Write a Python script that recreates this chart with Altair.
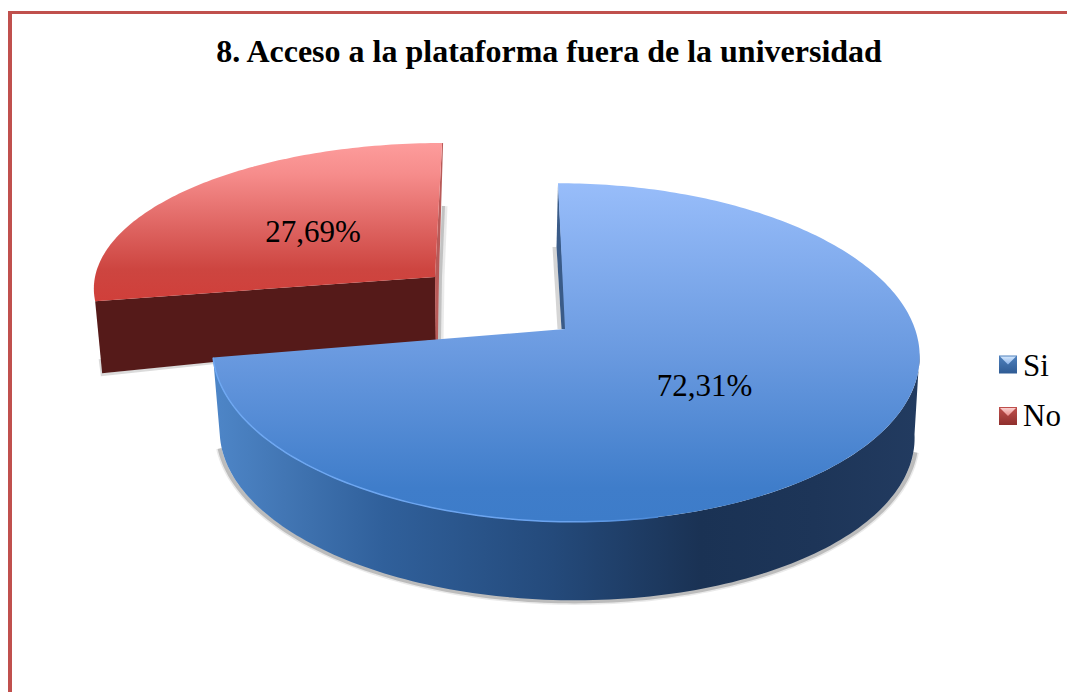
import numpy as np
import pandas as pd
import altair as alt

categories = ["Si", "No"]
shares = [72.31, 27.69]
share_labels = ["72,31%", "27,69%"]
title_text = "8. Acceso a la plataforma fuera de la universidad"

W, H = 1059, 684
xs = alt.Scale(domain=[8, 8 + W], range=[0, W])
ys = alt.Scale(domain=[8, 8 + H], range=[0, H])


def disc(ax, ay, b, a, k, s):
    """Perspective view of a pie's circular face; angles clockwise from north."""
    def f(deg):
        t = np.radians(np.asarray(deg, dtype=float))
        u, v = np.sin(t), np.cos(t)
        d = 1 + k * v
        return ax + (b * u + s * v) / d, ay - a * v / d
    return f


def frame(x, y):
    return pd.DataFrame({"x": x, "y": y, "i": np.arange(len(x))})


def enc(df, chart):
    return alt.Chart(df).mark_line(**chart, clip=False).encode(
        x=alt.X("x:Q", scale=xs, axis=None),
        y=alt.Y("y:Q", scale=ys, axis=None),
        order="i:Q",
    )


def poly(x, y, fill, **kw):
    return enc(frame(x, y), dict(fill=fill, strokeWidth=0, **kw))


def stroke(x, y, color, width, opacity=1.0):
    return enc(frame(x, y), dict(stroke=color, strokeWidth=width, opacity=opacity))


def grad(stops, vertical=True):
    d = dict(x1=0, x2=0, y1=0, y2=1) if vertical else dict(x1=0, x2=1, y1=0, y2=0)
    return alt.Gradient(gradient="linear",
                        stops=[alt.GradientStop(offset=o, color=c) for o, c in stops], **d)


sweep_si = shares[0] / 100 * 360
EXT = 98.0

# ---- blue slice (Si): clockwise from north
top = disc(565, 329, 350, 166, 0.139, -8)
low = disc(566, 411, 344, 163, 0.139, -8)
arc = np.linspace(EXT, sweep_si, 140)
tx, ty = top(arc)
lx, ly = low(arc)
ring = np.linspace(0, sweep_si, 260)
fx, fy = top(ring)
face_x = np.r_[565, fx]
face_y = np.r_[329, fy]

# ---- red slice (No): remainder of the circle, pulled out
r_top = disc(435, 277, 340, 142, 0.06, 7.5)
r_ring = np.linspace(sweep_si, 360, 100)
rx, ry = r_top(r_ring)
rface_x = np.r_[435, rx]
rface_y = np.r_[277, ry]
rl_x, rl_y = r_top(sweep_si)
re_x, re_y = r_top(360)

layers = [
    alt.Chart(pd.DataFrame({"a": [8], "b": [12], "c": [11], "d": [8 + H]})).mark_rect(color="#c0504d").encode(
        x=alt.X("a:Q", scale=xs, axis=None), x2="b:Q",
        y=alt.Y("c:Q", scale=ys, axis=None), y2="d:Q"),
    alt.Chart(pd.DataFrame({"a": [8], "b": [8 + W], "c": [11], "d": [14]})).mark_rect(color="#c0504d").encode(
        x=alt.X("a:Q", scale=xs, axis=None), x2="b:Q",
        y=alt.Y("c:Q", scale=ys, axis=None), y2="d:Q"),
]

# red shadows
layers += [
    stroke([444.5, 441.5, 440.5], [206, 277, 340], "#aaaaaa", 6, 0.25),
    stroke([443.5, 440.5, 439.5], [206, 277, 340], "#777777", 3, 0.35),
    stroke([rl_x + 5, rl_x + 7, 215], [rl_y + 58, rl_y + 73.5, rl_y + 61.5], "#888888", 3, 0.3),
]
# red wall, sliver and face
layers += [
    poly([rl_x, 435, 436, rl_x + 7], [rl_y, 277, 340, rl_y + 72], "#551a19"),
    poly([re_x, re_x + 1, 439, 438, 435.5, 435], [re_y, re_y, 277, 340, 340, 277], "#b85a58"),
    poly(rface_x, rface_y, grad([(0, "#fd9c9c"), (0.2, "#f68c8b"), (0.55, "#dd625f"),
                                 (0.8, "#cd4540"), (1, "#d03f3a")])),
]
# blue shadows
sx, sy = disc(566, 411.5, 346, 163.5, 0.139, -8)(np.linspace(EXT + 6, sweep_si - 3, 140))
layers += [
    stroke(sx, sy, "#aaaaaa", 7, 0.25),
    stroke(sx, sy, "#777777", 4, 0.4),
    stroke([554.5, 559.5], [247, 329], "#888888", 4, 0.35),
]
# blue wall, notch sliver and face
wall_x = np.r_[tx, lx[::-1]]
wall_y = np.r_[ty, ly[::-1]]
layers += [
    poly(wall_x, wall_y, grad([(0, "#4e86c8"), (0.1, "#4276b4"), (0.24, "#30609b"), (0.48, "#244a7b"),
                               (0.69, "#1a3254"), (0.85, "#1d3558"), (1, "#223b60")], vertical=False)),
    poly([558, 556.5, 561.5, 566], [184, 247, 329, 329], "#3a5b88"),
    poly(face_x, face_y, grad([(0, "#98bdfa"), (0.5, "#6a9ae0"), (0.9, "#3f7dca"), (1, "#3d7cc9")])),
]
hx, hy = top(np.linspace(sweep_si, 168, 80))
layers.append(enc(frame(hx, hy), dict(
    stroke=grad([(0, "#6fa8f2"), (0.8, "#6aa3ef"), (1, "#4a88d6")], vertical=False),
    strokeWidth=1.5)))

# legend swatches, labels, title
legend_df = pd.DataFrame({"x": [1008, 1008], "y": [364.5, 416], "cat": categories,
                          "lx": [1023, 1023], "ly": [376, 425.5]})
swatch_fills = [
    grad([(0, "#4f81bd"), (1, "#2f5b94")]),
    grad([(0, "#c0504d"), (1, "#8f2f2d")]),
]
swatch_tops = [
    grad([(0, "#d2e6fc"), (1, "#8db4ea")]),
    grad([(0, "#fad0cf"), (1, "#e88a88")]),
]
for i, c in enumerate(categories):
    sub = legend_df[legend_df.cat == c]
    layers.append(alt.Chart(sub).mark_square(
        size=18 * 18, fill=swatch_fills[i], opacity=1, strokeWidth=0).encode(
        x=alt.X("x:Q", scale=xs, axis=None), y=alt.Y("y:Q", scale=ys, axis=None)))
    layers.append(alt.Chart(sub).mark_point(
        shape="M -1 -1 L 1 -1 L 0 0 Z", filled=True,
        size=16 * 16, fill=swatch_tops[i], opacity=1, strokeWidth=0).encode(
        x=alt.X("x:Q", scale=xs, axis=None), y=alt.Y("y:Q", scale=ys, axis=None)))

font = "Liberation Serif"
layers.append(alt.Chart(legend_df).mark_text(font=font, fontSize=31, align="left", baseline="alphabetic",
                                             color="black").encode(
    x=alt.X("lx:Q", scale=xs, axis=None), y=alt.Y("ly:Q", scale=ys, axis=None), text="cat:N"))
lab_df = pd.DataFrame({"x": [704.5, 313], "y": [396, 242], "t": share_labels})
layers.append(alt.Chart(lab_df).mark_text(font=font, fontSize=31, align="center", baseline="alphabetic",
                                          color="black").encode(
    x=alt.X("x:Q", scale=xs, axis=None), y=alt.Y("y:Q", scale=ys, axis=None), text="t:N"))
title_df = pd.DataFrame({"x": [549], "y": [62], "t": [title_text]})
layers.append(alt.Chart(title_df).mark_text(font=font, fontSize=32, fontWeight="bold", align="center",
                                            baseline="alphabetic", color="black").encode(
    x=alt.X("x:Q", scale=xs, axis=None), y=alt.Y("y:Q", scale=ys, axis=None), text="t:N"))

chart = alt.layer(*layers).properties(
    width=W, height=H, padding=0, background="white", autosize=alt.AutoSizeParams(type="none")
).configure_view(stroke=None)

chart.save("out.html", embed_options={"renderer": "svg", "actions": False})
